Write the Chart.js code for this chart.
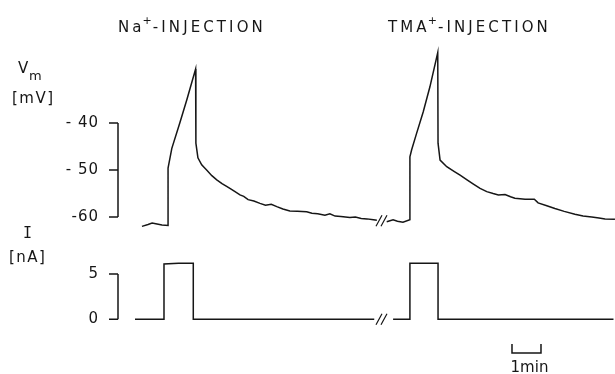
<!DOCTYPE html>
<html lang="en">
<head>
<meta charset="UTF-8">
<title>Na+ / TMA+ injection</title>
<script src="https://cdn.jsdelivr.net/npm/chart.js@4.4.1/dist/chart.umd.min.js"></script>
<style>
  html, body { margin: 0; padding: 0; background: #fff; }
  #wrap { position: relative; width: 615px; height: 374px; }
</style>
</head>
<body>
<div id="wrap"><canvas id="trace" width="615" height="374"></canvas></div>
<script>
// time in min (0 = start of the Na+ injection), Vm in mV, I in nA
const naTime = [-0.76, -0.55, -0.41, -0.24, -0.07, 0.14, 0.14, 0.27, 0.55, 0.79, 1.09, 1.10, 1.17, 1.30, 1.47,
                1.65, 1.82, 2.00, 2.16, 2.30, 2.45, 2.62, 2.75, 2.90, 3.10, 3.31, 3.50, 3.70, 3.89, 4.10, 4.34,
                4.60, 4.92, 5.10, 5.30, 5.55, 5.72, 5.90, 6.10, 6.41, 6.60, 6.80, 7.00, 7.22, 7.34];
const naVm   = [-62.0, -61.6, -61.3, -61.5, -61.7, -61.8, -49.6, -45.4, -39.9, -35.0, -28.5, -44.3, -47.4, -48.9, -50.0,
                -51.2, -52.1, -52.9, -53.5, -54.0, -54.6, -55.3, -55.6, -56.3, -56.6, -57.1, -57.5, -57.3, -57.8, -58.3, -58.7,
                -58.8, -58.9, -59.2, -59.3, -59.6, -59.3, -59.8, -59.9, -60.1, -60.0, -60.3, -60.4, -60.6, -60.7];

const tmaTime = [7.68, 7.90, 8.05, 8.24, 8.48, 8.48, 8.54, 8.71, 8.94, 9.17, 9.44, 9.45, 9.52, 9.75, 10.00,
                 10.21, 10.45, 10.67, 10.90, 11.13, 11.35, 11.53, 11.76, 11.95, 12.10, 12.45, 12.77, 12.90, 13.20,
                 13.48, 13.80, 14.17, 14.45, 14.75, 15.00, 15.21, 15.55];
const tmaVm   = [-61.0, -60.6, -60.9, -61.1, -60.6, -47.2, -45.7, -42.2, -37.6, -32.3, -25.0, -44.3, -47.9, -49.3, -50.3,
                 -51.1, -52.1, -53.0, -53.9, -54.6, -55.0, -55.3, -55.2, -55.7, -56.0, -56.2, -56.2, -57.0, -57.6,
                 -58.2, -58.8, -59.4, -59.8, -60.0, -60.2, -60.4, -60.5];

const naCurTime  = [-1.00, 0.00, 0.00, 0.50, 1.01, 1.01, 4.00, 7.25];
const naCur      = [0.0, 0.0, 6.1, 6.2, 6.2, 0.0, 0.0, 0.0];
const tmaCurTime = [7.90, 8.48, 8.48, 9.45, 9.45, 12.00, 15.50];
const tmaCur     = [0.0, 0.0, 6.2, 6.2, 0.0, 0.0, 0.0];

const vmTicks = [-60, -50, -40];
const vmTickLabels = ['-60', '- 50', '- 40'];
const curTicks = [0, 5];
const curTickLabels = ['0', '5'];
const breakTime = 7.5;
const scaleBar = [12, 13];

const ink = '#161616';
const font = '"DejaVu Sans", sans-serif';

function pts(xs, ys) {
    return xs.map((t, k) => ({ x: t, y: ys[k] }));
}

function trace(label, xs, ys, axis) {
    return {
        label: label,
        data: pts(xs, ys),
        yAxisID: axis,
        borderColor: ink,
        borderWidth: 1.5,
        pointRadius: 0,
        tension: 0
    };
}

function drawAxis(ctx, scale, left, ticks, labels) {
    const top = scale.getPixelForValue(Math.max(...ticks));
    const bot = scale.getPixelForValue(Math.min(...ticks));
    ctx.beginPath();
    ctx.moveTo(left, top);
    ctx.lineTo(left, bot);
    ticks.forEach(v => {
        const y = scale.getPixelForValue(v);
        ctx.moveTo(left - 9, y);
        ctx.lineTo(left, y);
    });
    ctx.stroke();
    ctx.font = '15px ' + font;
    ctx.letterSpacing = '1px';
    ctx.textAlign = 'right';
    ctx.textBaseline = 'middle';
    ticks.forEach((v, k) => ctx.fillText(labels[k], left - 19, scale.getPixelForValue(v)));
    ctx.letterSpacing = '0px';
}

// heading with a raised "+"
function heading(ctx, x, y, base, rest) {
    ctx.textAlign = 'left';
    ctx.textBaseline = 'alphabetic';
    ctx.letterSpacing = '3.1px';
    ctx.font = '15px ' + font;
    ctx.fillText(base, x, y);
    let w = ctx.measureText(base).width;
    ctx.letterSpacing = '0px';
    ctx.font = '11px ' + font;
    ctx.fillText('+', x + w - 2, y - 8);
    w += ctx.measureText('+').width - 1;
    ctx.letterSpacing = '3.1px';
    ctx.font = '15px ' + font;
    ctx.fillText(rest, x + w, y);
    ctx.letterSpacing = '0px';
}

function breakMark(ctx, px, py) {
    ctx.beginPath();
    [-2.5, 2.5].forEach(d => {
        ctx.moveTo(px + d - 3, py + 5.5);
        ctx.lineTo(px + d + 3, py - 5.5);
    });
    ctx.stroke();
}

const decor = {
    id: 'decor',
    afterDraw(chart) {
        const { ctx, chartArea, scales } = chart;
        const x = scales.x, vm = scales.vm, cur = scales.cur;
        ctx.save();
        ctx.strokeStyle = ink;
        ctx.fillStyle = ink;
        ctx.lineWidth = 1.5;

        drawAxis(ctx, vm, chartArea.left, vmTicks, vmTickLabels);
        drawAxis(ctx, cur, chartArea.left, curTicks, curTickLabels);

        // axis titles
        ctx.textAlign = 'left';
        ctx.textBaseline = 'alphabetic';
        ctx.font = '15px ' + font;
        ctx.fillText('V', 18, 73);
        ctx.font = '13px ' + font;
        ctx.fillText('m', 29, 80);
        ctx.font = '15px ' + font;
        ctx.letterSpacing = '1.5px';
        ctx.fillText('[mV]', 12, 103);
        ctx.fillText('[nA]', 9, 262);
        ctx.letterSpacing = '0px';
        ctx.font = '15px "DejaVu Sans Mono", monospace';
        ctx.fillText('I', 23, 238);

        heading(ctx, 118, 32, 'Na', '-INJECTION');
        heading(ctx, 388, 32, 'TMA', '-INJECTION');

        // interruption of the recording
        ctx.lineWidth = 1.2;
        const bx = x.getPixelForValue(breakTime);
        breakMark(ctx, bx, vm.getPixelForValue(-60.8));
        breakMark(ctx, bx, cur.getPixelForValue(0));

        // time scale bar
        ctx.lineWidth = 1.5;
        const x0 = x.getPixelForValue(scaleBar[0]);
        const x1 = x.getPixelForValue(scaleBar[1]);
        ctx.beginPath();
        ctx.moveTo(x0, 344);
        ctx.lineTo(x0, 353);
        ctx.lineTo(x1, 353);
        ctx.lineTo(x1, 344);
        ctx.stroke();
        ctx.font = '15px ' + font;
        ctx.textAlign = 'center';
        ctx.fillText('1min', (x0 + x1) / 2 + 3, 372);
        ctx.restore();
    }
};

new Chart(document.getElementById('trace'), {
    type: 'line',
    data: {
        datasets: [
            trace('Vm Na+', naTime, naVm, 'vm'),
            trace('Vm TMA+', tmaTime, tmaVm, 'vm'),
            trace('I Na+', naCurTime, naCur, 'cur'),
            trace('I TMA+', tmaCurTime, tmaCur, 'cur')
        ]
    },
    options: {
        responsive: false,
        animation: false,
        devicePixelRatio: 1,
        layout: { padding: { left: 118, right: 0, top: 40, bottom: 34 } },
        plugins: {
            legend: { display: false },
            tooltip: { enabled: false }
        },
        scales: {
            x: { type: 'linear', display: false, min: -1.586, max: 15.552 },
            vm: { type: 'linear', display: false, min: -86.17, max: -22.34 },
            cur: { type: 'linear', display: false, min: -2.285, max: 30.83 }
        }
    },
    plugins: [decor]
});
</script>
</body>
</html>
